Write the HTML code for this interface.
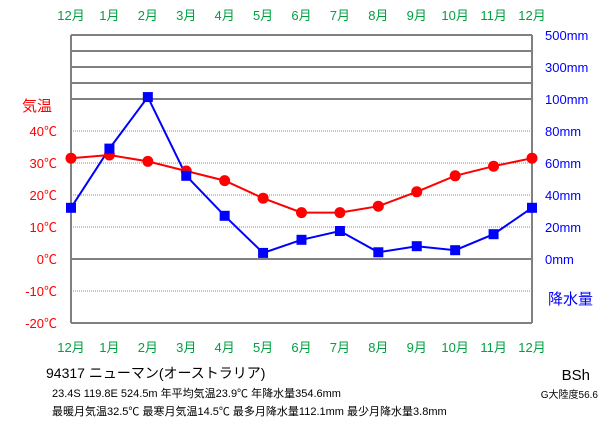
<!DOCTYPE html>
<html><head><meta charset="utf-8"><style>
body{margin:0;background:#fff;}
svg text{font-family:"Liberation Sans","Noto Sans CJK JP",sans-serif;}
</style></head><body>
<svg width="611" height="425" xmlns="http://www.w3.org/2000/svg">
<g id="grid"></g>
<g id="labels"></g>
<g id="series"></g>
<text x="22" y="111" font-size="15" fill="#f00">気温</text>
<text x="548" y="304" font-size="15" fill="#00f">降水量</text>
<text x="46" y="378" font-size="14" fill="#000">94317  ニューマン(オーストラリア)</text>
<text x="52" y="397" font-size="11" fill="#000">23.4S 119.8E 524.5m 年平均気温23.9℃ 年降水量354.6mm</text>
<text x="52" y="415" font-size="11" fill="#000">最暖月気温32.5℃ 最寒月気温14.5℃ 最多月降水量112.1mm 最少月降水量3.8mm</text>
<text x="590" y="380" font-size="15" fill="#000" text-anchor="end">BSh</text>
<text x="598" y="398" font-size="10" fill="#000" text-anchor="end">G大陸度56.6</text>
</svg>
<script>
const months=["12月","1月","2月","3月","4月","5月","6月","7月","8月","9月","10月","11月","12月"];
const temps=[31.5,32.5,30.5,27.5,24.5,19,14.5,14.5,16.5,21,26,29,31.5];
const precip=[32,69,112.1,52,27,3.8,12,17.5,4.2,8,5.5,15.5,32];
const tempTicks=[40,30,20,10,0,-10,-20];
const precipTicks=[0,20,40,60,80,100,300,500];
const L=71,R=532,T=35,B=323;
const NS="http://www.w3.org/2000/svg";
function xs(i){return L+i*(R-L)/12;}
function yT(t){return 259-t*3.2;}
function yP(p){if(p<=100)return 259-p*1.6;if(p<=300)return 99-(p-100)/200*32;return 67-(p-300)/200*32;}
function mk(tag,at,par){const e=document.createElementNS(NS,tag);for(const k in at)e.setAttribute(k,at[k]);document.getElementById(par).appendChild(e);return e;}
// grid
[131,163,195,227,291].forEach(y=>{const l=mk('line',{x1:L,x2:R,y1:y,y2:y,stroke:'#888','stroke-dasharray':'1,1','stroke-width':1},'grid');

});
[35,51,67,83,99,259,323].forEach(y=>{const l=mk('line',{x1:L,x2:R,y1:y,y2:y,stroke:'#808080','stroke-width':2},'grid');

});
[L,R].forEach(x=>{const l=mk('line',{x1:x,x2:x,y1:T,y2:B,stroke:'#808080','stroke-width':2},'grid');

});
// month labels
months.forEach((m,i)=>{[20,352].forEach(y=>{const t=mk('text',{x:xs(i),y:y,'font-size':13,fill:'#00a040','text-anchor':'middle'},'labels');t.textContent=m;

});});
tempTicks.forEach(v=>{const t=mk('text',{x:57,y:yT(v)+5,'font-size':13,fill:'#f00','text-anchor':'end'},'labels');t.textContent=v+'℃';

});
precipTicks.forEach(v=>{const t=mk('text',{x:545,y:yP(v)+5,'font-size':13,fill:'#00f'},'labels');t.textContent=v+'mm';

});
// series
const pl=mk('polyline',{points:precip.map((p,i)=>xs(i)+','+yP(p)).join(' '),fill:'none',stroke:'#00f','stroke-width':2},'series');


const tl=mk('polyline',{points:temps.map((t,i)=>xs(i)+','+yT(t)).join(' '),fill:'none',stroke:'#f00','stroke-width':2},'series');


temps.forEach((t,i)=>{const c=mk('circle',{cx:xs(i),cy:yT(t),r:5.5,fill:'#f00'},'series');

});
precip.forEach((p,i)=>{const r=mk('rect',{x:xs(i)-5,y:yP(p)-5,width:10,height:10,fill:'#00f'},'series');

});
</script>
</body></html>
